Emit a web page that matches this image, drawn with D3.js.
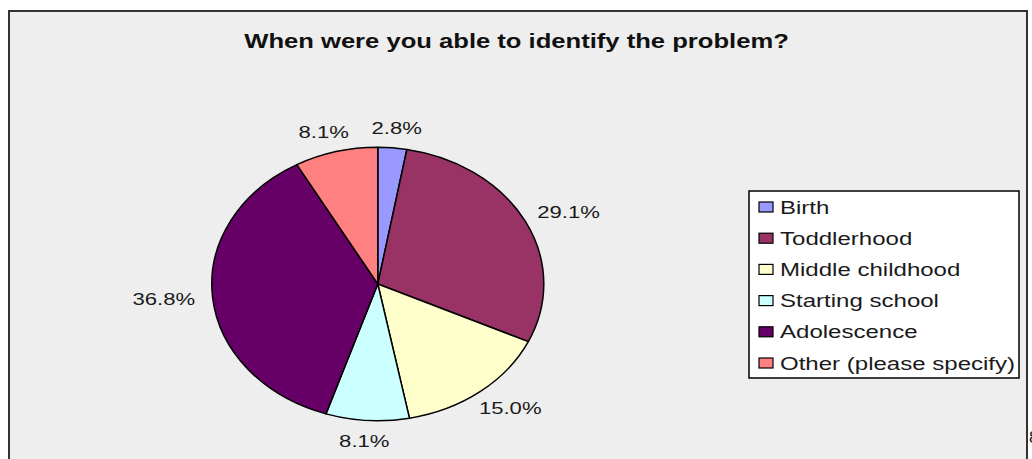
<!DOCTYPE html>
<html>
<head>
<meta charset="utf-8">
<script src="https://cdn.jsdelivr.net/npm/d3@7"></script>
<style>
  html, body { margin: 0; padding: 0; background: #ffffff; }
  svg { display: block; }
  text { font-family: "Liberation Sans", Arial, sans-serif; }
</style>
</head>
<body>
<svg id="chart" width="1032" height="459"></svg>
<script>
const title = "When were you able to identify the problem?";
const categories = ["Birth", "Toddlerhood", "Middle childhood", "Starting school", "Adolescence", "Other (please specify)"];
const values = [2.8, 29.1, 15.0, 8.1, 36.8, 8.1];
const colors = ["#9999FF", "#993366", "#FFFFCC", "#CCFFFF", "#660066", "#FF8080"];

const W = 1032, H = 459;
const svg = d3.select("#chart");
const sx = 1.3; // horizontal text stretch as in the reference

// outer frame
svg.append("rect")
  .attr("x", 9).attr("y", 11)
  .attr("width", 1018).attr("height", H + 20)
  .attr("fill", "#eeeeee")
  .attr("stroke", "#333333").attr("stroke-width", 2);

// title
svg.append("g")
  .attr("transform", `translate(516.5,47.5) scale(${sx},1)`)
  .append("text")
  .attr("text-anchor", "middle")
  .attr("font-size", 19.7)
  .attr("font-weight", "bold")
  .attr("fill", "#111")
  .text(title);

// pie (elliptical, as in the reference)
const cx = 377.8, cy = 284, rx = 166, ry = 136.7;
const pie = d3.pie().sort(null).value(d => d)(values);
const arc = d3.arc().innerRadius(0).outerRadius(ry);
const color = d3.scaleOrdinal().domain(categories).range(colors);

const pg = svg.append("g").attr("transform", `translate(${cx},${cy}) scale(${rx / ry},1)`);
pg.selectAll("path")
  .data(pie)
  .join("path")
  .attr("d", arc)
  .attr("fill", (d, i) => color(categories[i]))
  .attr("stroke", "#000")
  .attr("stroke-width", 1.5)
  .attr("vector-effect", "non-scaling-stroke")
  .attr("stroke-linejoin", "round");

// data labels
const lrx = 215, lry = 157;
const fmt = d3.format(".1f");
svg.selectAll("g.lbl")
  .data(pie)
  .join("g")
  .attr("class", "lbl")
  .attr("transform", d => {
    const a = (d.startAngle + d.endAngle) / 2;
    const x = cx + lrx * Math.sin(a);
    const y = cy - lry * Math.cos(a) + 6;
    return `translate(${x},${y}) scale(${sx},1)`;
  })
  .append("text")
  .attr("text-anchor", "middle")
  .attr("font-size", 17)
  .attr("fill", "#1a1a1a")
  .text(d => fmt(d.data) + "%");

// legend
const lg = svg.append("g");
lg.append("rect")
  .attr("x", 749).attr("y", 191)
  .attr("width", 270).attr("height", 187)
  .attr("fill", "#ffffff")
  .attr("stroke", "#000").attr("stroke-width", 1.5);

const ly = d3.scalePoint().domain(categories).range([207, 363]);
const items = lg.selectAll("g.item")
  .data(categories)
  .join("g")
  .attr("class", "item");
items.append("rect")
  .attr("x", 759).attr("y", d => ly(d) - 5)
  .attr("width", 14).attr("height", 10)
  .attr("fill", d => color(d))
  .attr("stroke", "#000").attr("stroke-width", 1.2);
items.append("g")
  .attr("transform", d => `translate(780,${ly(d) + 6.5}) scale(${sx},1)`)
  .append("text")
  .attr("font-size", 18.5)
  .attr("fill", "#1a1a1a")
  .text(d => d);

// cropped neighbouring glyph at the right edge
svg.append("text")
  .attr("x", 1029).attr("y", 443)
  .attr("font-size", 17)
  .attr("fill", "#1a1a1a")
  .text("8");
</script>
</body>
</html>
